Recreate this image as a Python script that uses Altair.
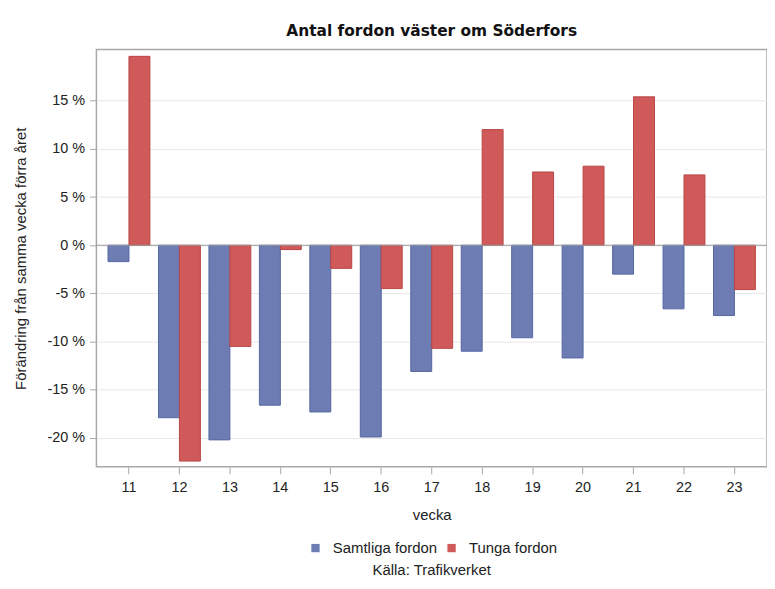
import altair as alt
import pandas as pd

weeks = [11, 12, 13, 14, 15, 16, 17, 18, 19, 20, 21, 22, 23]
samtliga = [-1.7, -17.9, -20.2, -16.6, -17.3, -19.9, -13.1, -11.0, -9.6, -11.7, -3.0, -6.6, -7.3]
tunga = [19.6, -22.4, -10.5, -0.45, -2.4, -4.5, -10.7, 12.0, 7.6, 8.2, 15.4, 7.3, -4.6]
series = ["Samtliga fordon", "Tunga fordon"]
fill_colors = ["#6d7db3", "#d05a5a"]
stroke_colors = ["#5667a3", "#b84646"]
y_ticks = [-20, -15, -10, -5, 0, 5, 10, 15]

rows = []
for w, s, t in zip(weeks, samtliga, tunga):
    rows.append({"vecka": str(w), "serie": series[0], "value": s})
    rows.append({"vecka": str(w), "serie": series[1], "value": t})
df = pd.DataFrame(rows)

FONT = "Liberation Sans"

yscale = alt.Scale(domain=[-23, 20.3], nice=False, zero=False)

bars = alt.Chart(df).mark_bar(strokeWidth=1).encode(
    x=alt.X("vecka:N", sort=[str(w) for w in weeks],
            scale=alt.Scale(paddingInner=0.17, paddingOuter=0.23),
            axis=alt.Axis(title="vecka", labelAngle=0, tickSize=7, labelPadding=7,
                          titlePadding=13, domain=False, grid=False)),
    xOffset=alt.XOffset("serie:N", sort=series, scale=alt.Scale(paddingInner=0, paddingOuter=0)),
    y=alt.Y("value:Q", scale=yscale,
            axis=alt.Axis(title="Förändring från samma vecka förra året", values=y_ticks,
                          labelExpr="datum.value + ' %'", tickSize=7, labelPadding=5,
                          titlePadding=19, domain=False, grid=True)),
    color=alt.Color("serie:N", sort=series,
                    scale=alt.Scale(domain=series, range=fill_colors),
                    legend=alt.Legend(title=None, orient="none", direction="horizontal",
                                      legendX=213, legendY=494, symbolType="square",
                                      symbolSize=70, symbolStrokeWidth=0, labelOffset=10,
                                      labelFontSize=15, labelFont=FONT, columnPadding=6,
                                      labelColor="#222222")),
    stroke=alt.Stroke("serie:N", sort=series,
                      scale=alt.Scale(domain=series, range=stroke_colors), legend=None),
)

zero = alt.Chart(pd.DataFrame({"z": [0]})).mark_rule(color="#9a9a9a", strokeWidth=1.2).encode(
    y=alt.Y("z:Q", scale=yscale)
)

source = alt.Chart(pd.DataFrame({"t": ["Källa: Trafikverket"]})).mark_text(
    font=FONT, fontSize=15, color="#222222", align="center", baseline="middle"
).encode(text="t:N", x=alt.value(337.5), y=alt.value(524))

chart = alt.layer(bars, zero, source).properties(
    width=675, height=420,
    title=alt.Title("Antal fordon väster om Söderfors", font="DejaVu Sans", fontSize=15.5,
                    fontWeight="bold", color="#111111", anchor="middle", offset=10),
    autosize=alt.AutoSizeParams(type="none"),
    padding={"left": 89, "top": 40, "right": 0, "bottom": 113},
).configure_view(stroke="#a8a8a8", strokeWidth=1.5).configure_axis(
    labelFont=FONT, labelFontSize=14.5, labelColor="#222222",
    titleFont=FONT, titleFontSize=15, titleFontWeight="normal", titleColor="#222222",
    tickColor="#a8a8a8", gridColor="#e8e8e8", gridWidth=1,
)

chart.save("out.html", embed_options={"renderer": "svg", "actions": False})
